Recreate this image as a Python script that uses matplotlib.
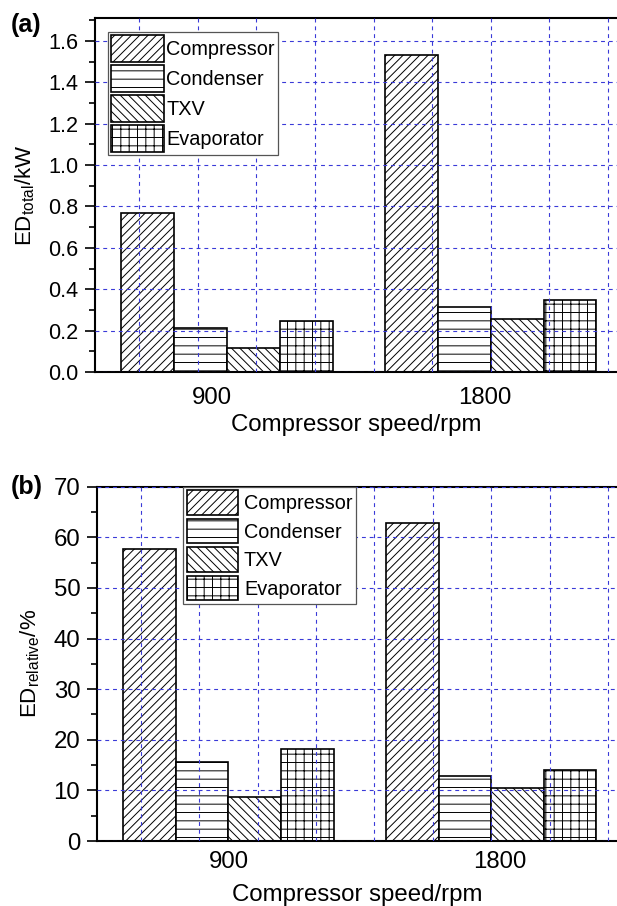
import numpy as np
import matplotlib
matplotlib.use('Agg')
import matplotlib.pyplot as plt
from matplotlib.ticker import MultipleLocator, AutoMinorLocator, FormatStrFormatter

plt.rcParams['font.family'] = ['Liberation Sans', 'DejaVu Sans']
plt.rcParams['mathtext.fontset'] = 'custom'
plt.rcParams['mathtext.rm'] = 'Liberation Sans'
plt.rcParams['mathtext.it'] = 'Liberation Sans:italic'
plt.rcParams['hatch.linewidth'] = 0.7
plt.rcParams['hatch.color'] = 'black'

# Data
speeds = ['900', '1800']
components = ['Compressor', 'Condenser', 'TXV', 'Evaporator']

# (a) total exergy destruction, kW
compressor_kw = [0.77, 1.53]
condenser_kw = [0.212, 0.315]
txv_kw = [0.116, 0.257]
evaporator_kw = [0.247, 0.347]

# (b) relative exergy destruction, %
compressor_pct = [57.7, 62.9]
condenser_pct = [15.7, 12.8]
txv_pct = [8.6, 10.4]
evaporator_pct = [18.1, 14.0]

hatches = ['////', '--', '\\\\\\\\', '++']
grid_color = '#3a3ad8'

fig = plt.figure(figsize=(6.17, 9.06), dpi=100)
ax_a = fig.add_axes([0.15397, 0.58940, 0.84603, 0.39040])
ax_b = fig.add_axes([0.15721, 0.07174, 0.84279, 0.39106])

x = np.arange(1, len(speeds) + 1)
width = 0.2


def draw_panel(ax, series, ymax, ymajor, label_pos, ylabel, tick_fs, xpad, fmt=None):
    for i, (vals, name) in enumerate(zip(series, components)):
        ax.bar(x + (i - 1.5) * width, vals, width, color='white', edgecolor='black',
               linewidth=1.2, hatch=hatches[i], label=name, zorder=1)
    ax.set_xlim(0.5, 2.478)
    ax.set_ylim(0, ymax)
    ax.yaxis.set_major_locator(MultipleLocator(ymajor))
    ax.yaxis.set_minor_locator(AutoMinorLocator(2))
    if fmt:
        ax.yaxis.set_major_formatter(FormatStrFormatter(fmt))
    ax.xaxis.set_minor_locator(MultipleLocator(2 / 9))
    ax.set_xticks(label_pos)
    ax.set_xticklabels(speeds, fontsize=17.3)
    ax.tick_params(axis='x', which='both', length=0, pad=xpad)
    ax.tick_params(axis='y', which='major', direction='out', length=7, width=1.2,
                   labelsize=tick_fs, pad=5)
    ax.tick_params(axis='y', which='minor', direction='out', length=4, width=1.2)
    ax.spines['right'].set_visible(False)
    for s in ['left', 'bottom', 'top']:
        ax.spines[s].set_linewidth(1.5)
    ax.set_axisbelow(False)
    ax.grid(axis='y', which='major', color=grid_color, linestyle=(0, (3.5, 3.5)), linewidth=0.8)
    ax.grid(axis='x', which='minor', color=grid_color, linestyle=(0, (3.5, 3.5)), linewidth=0.8)
    ax.set_xlabel('Compressor speed/rpm', fontsize=17.3)
    ax.set_ylabel(ylabel, fontsize=16)


draw_panel(ax_a, [compressor_kw, condenser_kw, txv_kw, evaporator_kw], 1.709, 0.2,
           [0.944, 1.977], 'ED$_{\\mathrm{total}}$/kW', 15.6, 10.5, '%.1f')
draw_panel(ax_b, [compressor_pct, condenser_pct, txv_pct, evaporator_pct], 70, 10,
           [1.0, 2.033], 'ED$_{\\mathrm{relative}}$/%', 17.3, 7.5)

ax_a.xaxis.set_label_coords(0.5, -0.119)
ax_b.xaxis.set_label_coords(0.5, -0.121)
ax_a.yaxis.set_label_coords(-0.111, 0.5)
ax_b.yaxis.set_label_coords(-0.106, 0.5)

leg_a = ax_a.legend(loc='upper left', bbox_to_anchor=(0.0243, 0.962), borderaxespad=0,
                    fontsize=14.3, handlelength=2.68, handleheight=1.685, handletextpad=0.1,
                    labelspacing=0.17, borderpad=0.17, fancybox=False, framealpha=1,
                    edgecolor='#555555')
leg_b = ax_b.legend(loc='upper left', bbox_to_anchor=(0.166, 1.0), borderaxespad=0,
                    fontsize=14.3, handlelength=2.58, handleheight=1.53, handletextpad=0.3,
                    labelspacing=0.2, borderpad=0.17, fancybox=False, framealpha=1,
                    edgecolor='#555555')
for leg in (leg_a, leg_b):
    leg.get_frame().set_linewidth(0.9)

fig.text(11 / 617, 1 - 13 / 906, '(a)', fontsize=18, fontweight='bold', ha='left', va='top')
fig.text(11 / 617, 1 - 475 / 906, '(b)', fontsize=18, fontweight='bold', ha='left', va='top')

fig.savefig('out.png', dpi=100)
